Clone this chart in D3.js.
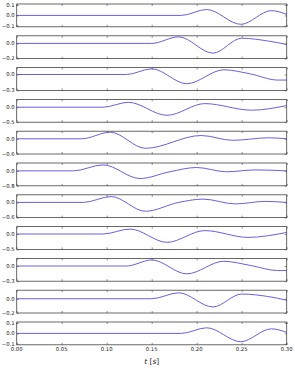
<!DOCTYPE html>
<html lang="en">
  <head>
    <meta charset="UTF-8" />
    <title>wave traces</title>
    <style>
      body { margin: 0; background: #fff; }
      text { font-family: "DejaVu Sans", sans-serif; fill: #222; }
    </style>
  </head>
  <body>
    <svg id="svg" width="295" height="371"></svg>

    <script src="https://d3js.org/d3.v7.min.js"></script>
    <script>
      // traces: [t, value]
      const trace1 = [[0, 0], [0.183, 0], [0.211, 0.057], [0.249, -0.086], [0.283, 0.046], [0.3, 0.01]];
      const trace2 = [[0, 0], [0.15, 0], [0.18, 0.086], [0.218, -0.128], [0.25, 0.068], [0.28, 0.03], [0.3, -0.014]];
      const trace3 = [[0, 0], [0.122, 0], [0.15, 0.107], [0.189, -0.174], [0.23, 0.088], [0.26, 0.01], [0.29, -0.105], [0.3, -0.105]];
      const trace4 = [[0, 0], [0.096, 0], [0.124, 0.163], [0.167, -0.27], [0.209, 0.12], [0.261, -0.1], [0.3, 0.055]];
      const trace5 = [[0, 0], [0.072, 0], [0.104, 0.26], [0.143, -0.375], [0.205, 0.13], [0.24, -0.06], [0.28, 0.04], [0.3, 0.0]];
      const trace6 = [[0, 0], [0.063, 0], [0.096, 0.32], [0.137, -0.41], [0.17, -0.05], [0.2, 0.18], [0.233, -0.05], [0.265, 0.05], [0.3, 0.0]];
      const trace7 = [[0, 0], [0.074, 0], [0.105, 0.23], [0.143, -0.35], [0.18, 0.0], [0.207, 0.13], [0.243, -0.06], [0.276, 0.04], [0.3, 0.0]];
      const trace8 = [[0, 0], [0.096, 0], [0.126, 0.16], [0.167, -0.27], [0.209, 0.11], [0.257, -0.11], [0.3, 0.05]];
      const trace9 = [[0, 0], [0.122, 0], [0.15, 0.12], [0.189, -0.155], [0.23, 0.093], [0.26, 0.01], [0.29, -0.09], [0.3, -0.09]];
      const trace10 = [[0, 0], [0.15, 0], [0.18, 0.083], [0.218, -0.115], [0.25, 0.066], [0.28, 0.03], [0.3, -0.02]];
      const trace11 = [[0, 0], [0.183, 0], [0.211, 0.054], [0.249, -0.08], [0.283, 0.044], [0.3, 0.01]];

      const traces = [trace1, trace2, trace3, trace4, trace5, trace6, trace7, trace8, trace9, trace10, trace11];

      // y limits and labelled y ticks of each panel
      const yLimits = [
        [-0.11, 0.11], [-0.2, 0.1], [-0.3, 0.13], [-0.5, 0.26], [-0.6, 0.3], [-0.8, 0.42],
        [-0.6, 0.3], [-0.5, 0.24], [-0.3, 0.15], [-0.2, 0.12], [-0.11, 0.11]
      ];
      const yTicks = [
        [-0.1, 0, 0.1], [-0.2, 0], [-0.3, 0], [-0.5, 0], [-0.6, 0], [-0.8, 0],
        [-0.6, 0], [-0.5, 0], [-0.3, 0], [-0.2, 0], [-0.1, 0, 0.1]
      ];
      const xTicks = [0, 0.05, 0.1, 0.15, 0.2, 0.25, 0.3];

      const left = 16.7, right = 286.7;
      const top0 = 4, step = 31.8, panelH = 22.8;

      const svg = d3.select("#svg");
      const x = d3.scaleLinear().domain([0, 0.3]).range([left, right]);
      const fmt = (d) => d3.format(".1f")(d).replace("-", "\u2212");

      traces.forEach((data, i) => {
        const y0 = top0 + i * step;
        const y = d3.scaleLinear().domain(yLimits[i]).range([y0 + panelH, y0]);
        const g = svg.append("g");

        g.append("path")
          .datum(data)
          .attr("fill", "none")
          .attr("stroke", "#6a60dc")
          .attr("stroke-width", 1)
          .attr("d", d3.line().x((d) => x(d[0])).y((d) => y(d[1])).curve(d3.curveMonotoneX));

        // ticks pointing inward
        const ax = (gen, tr) => {
          const a = g.append("g").attr("transform", tr).call(gen);
          a.select(".domain").remove();
          a.selectAll("line").attr("stroke", "#444").attr("stroke-width", 0.6);
          a.selectAll("text").remove();
        };
        ax(d3.axisBottom(x).tickValues(xTicks).tickSizeInner(-2), `translate(0,${y0 + panelH})`);
        ax(d3.axisTop(x).tickValues(xTicks).tickSizeInner(-2), `translate(0,${y0})`);
        ax(d3.axisLeft(y).tickValues(yTicks[i]).tickSizeInner(-2), `translate(${left},0)`);
        ax(d3.axisRight(y).tickValues(yTicks[i]).tickSizeInner(-2), `translate(${right},0)`);

        g.append("rect")
          .attr("x", left).attr("y", y0)
          .attr("width", right - left).attr("height", panelH)
          .attr("fill", "none").attr("stroke", "#444").attr("stroke-width", 0.8);

        g.selectAll(".ylab")
          .data(yTicks[i])
          .enter()
          .append("text")
          .attr("x", left - 2)
          .attr("y", (d) => y(d))
          .attr("dy", "0.35em")
          .attr("text-anchor", "end")
          .attr("font-size", 5.3)
          .text(fmt);

        if (i === traces.length - 1) {
          g.selectAll(".xlab")
            .data(xTicks)
            .enter()
            .append("text")
            .attr("x", (d) => x(d))
            .attr("y", y0 + panelH + 6)
            .attr("text-anchor", "middle")
            .attr("font-size", 5.3)
            .text((d) => d3.format(".2f")(d));
        }
      });

      const lab = svg.append("text")
        .attr("x", (left + right) / 2)
        .attr("y", 364)
        .attr("text-anchor", "middle")
        .attr("font-size", 7.5);
      lab.append("tspan").attr("font-style", "italic").text("t");
      lab.append("tspan").text(" [");
      lab.append("tspan").attr("font-style", "italic").text("s");
      lab.append("tspan").text("]");
    </script>
  </body>
</html>
